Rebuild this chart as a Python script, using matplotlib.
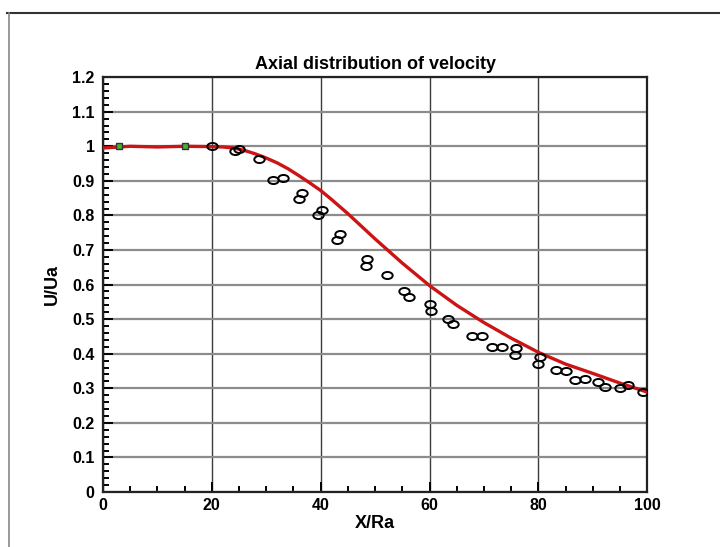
import matplotlib.pyplot as plt
from matplotlib.lines import Line2D
from matplotlib.path import Path
from matplotlib.transforms import Affine2D
from matplotlib.ticker import MultipleLocator

plt.rcParams['font.family'] = ['Liberation Sans', 'DejaVu Sans']

# model curve (red line)
curve_x = [0, 5, 10, 15, 20, 22, 24, 26, 28, 30, 32, 34, 36, 38, 40, 42,
           45, 50, 55, 60, 65, 70, 75, 80, 85, 90, 95, 100]
curve_y = [0.995, 1.0, 0.998, 1.0, 0.999, 0.998, 0.995, 0.988, 0.978, 0.966,
           0.952, 0.935, 0.915, 0.894, 0.872, 0.846, 0.805, 0.732, 0.662,
           0.597, 0.540, 0.490, 0.445, 0.404, 0.370, 0.343, 0.315, 0.289]

# measured points (open markers)
meas_x = [20, 24.3, 25, 28.7, 31.2, 33.0, 36.0, 36.5, 39.5, 40.2, 43.0, 43.5,
          48.3, 48.6, 52.2, 55.3, 56.3, 60.0, 60.3, 63.3, 64.3, 67.8, 69.6,
          71.5, 73.3, 75.7, 75.9, 80.0, 80.2, 83.3, 85.0, 86.8, 88.5, 91.0,
          92.3, 95.0, 96.5, 99.3]
meas_y = [1.0, 0.986, 0.993, 0.963, 0.903, 0.908, 0.848, 0.866, 0.80, 0.816,
          0.73, 0.745, 0.655, 0.675, 0.628, 0.58, 0.565, 0.545, 0.525, 0.50,
          0.487, 0.45, 0.45, 0.42, 0.42, 0.397, 0.418, 0.37, 0.39, 0.352,
          0.35, 0.325, 0.328, 0.318, 0.304, 0.30, 0.31, 0.289]

# green points near the inlet
green_x = [3, 15]
green_y = [1.0, 1.0]

ellipse = Path.unit_circle().transformed(Affine2D().scale(1.0, 0.68))

fig = plt.figure(figsize=(7.2, 5.47), dpi=100)
ax = fig.add_axes([0.143, 0.1005, 0.756, 0.7585])

ax.plot(curve_x, curve_y, color='#cc1414', lw=2.4, zorder=3)
ax.plot(meas_x, meas_y, ls='none', marker=ellipse, ms=7.5, mfc='none',
        mec='black', mew=1.4, zorder=4)
ax.plot(green_x, green_y, ls='none', marker='s', ms=5, mfc='#4caf30',
        mec='#333333', mew=1.0, zorder=4)

ax.set_xlim(0, 100)
ax.set_ylim(0, 1.2)
ax.xaxis.set_major_locator(MultipleLocator(20))
ax.xaxis.set_minor_locator(MultipleLocator(5))
ax.yaxis.set_minor_locator(MultipleLocator(0.02))
ax.set_yticks([i / 10 for i in range(13)])
ax.set_yticklabels(['0', '0.1', '0.2', '0.3', '0.4', '0.5', '0.6', '0.7',
                    '0.8', '0.9', '1', '1.1', '1.2'])

ax.grid(axis='y', which='major', color='#8c8c8c', lw=1.6)
ax.grid(axis='x', which='major', color='#3c3c3c', lw=1.0)
ax.set_axisbelow(True)

ax.tick_params(which='both', direction='in', top=False, right=False,
               labelsize=11.5, width=1.4)
ax.tick_params(which='major', length=7)
ax.tick_params(which='minor', length=4)
ax.tick_params(axis='y', pad=6)
ax.tick_params(axis='x', pad=4)
for lab in ax.get_xticklabels() + ax.get_yticklabels():
    lab.set_fontweight('bold')
for s in ax.spines.values():
    s.set_linewidth(1.6)
    s.set_color('#222222')

ax.set_title('Axial distribution of velocity', fontsize=13, fontweight='bold',
             pad=6)
ax.set_xlabel('X/Ra', fontsize=13, fontweight='bold', labelpad=2)
ax.set_ylabel('U/Ua', fontsize=13, fontweight='bold', labelpad=8)

# frame of the original screenshot
fig.add_artist(Line2D([0.010, 1.0], [0.976, 0.976], transform=fig.transFigure,
                      color='#333333', lw=1.5))
fig.add_artist(Line2D([0.013, 0.013], [0.0, 0.976], transform=fig.transFigure,
                      color='#888888', lw=1.2))

fig.savefig('out.png', dpi=100)
